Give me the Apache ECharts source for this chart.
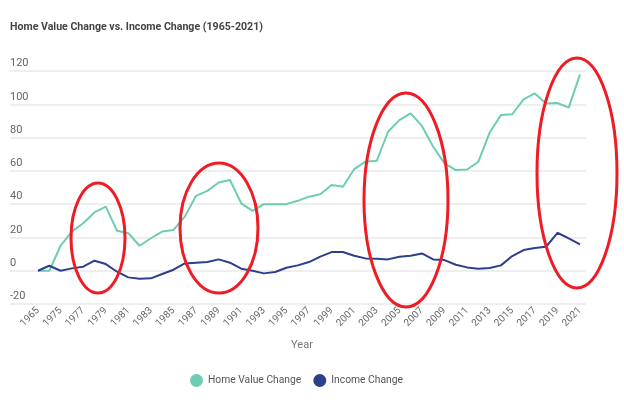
<!DOCTYPE html>
<html>
<head>
<meta charset="utf-8">
<script src="https://cdn.jsdelivr.net/npm/echarts@6/dist/echarts.min.js"></script>
<style>
  html, body { margin: 0; padding: 0; background: #fff; }
  #main { width: 624px; height: 412px; }
</style>
</head>
<body>
<div id="main"></div>
<script>
// years on the x axis (second one has no label in the picture)
var years = ['1965', '1970', '1975', '1976', '1977', '1978', '1979', '1980', '1981', '1982',
  '1983', '1984', '1985', '1986', '1987', '1988', '1989', '1990', '1991', '1992',
  '1993', '1994', '1995', '1996', '1997', '1998', '1999', '2000', '2001', '2002',
  '2003', '2004', '2005', '2006', '2007', '2008', '2009', '2010', '2011', '2012',
  '2013', '2014', '2015', '2016', '2017', '2018', '2019', '2020', '2021'];

var homeValue = [0, 0, 15, 23.5, 28.5, 35, 38.5, 24, 22.5, 15,
  19.5, 23.5, 24.5, 32.5, 45, 48, 53, 54.5, 40.5, 36,
  40, 40, 40, 42, 44.5, 46, 51.5, 50.5, 61, 65.5,
  66, 83.5, 90.5, 94.5, 87, 74.5, 64.5, 60.5, 60.8, 65.5,
  83, 93.5, 94, 103, 106.5, 100.5, 100.8, 98, 118];

var income = [0, 3, 0, 1.4, 2.4, 6, 4, -0.6, -4, -4.8,
  -4.6, -2, 0.6, 4.4, 4.8, 5.2, 6.8, 4.8, 1.2, 0,
  -1.6, -0.8, 1.8, 3.2, 5.2, 8.5, 11.2, 11.2, 9, 7.4,
  7.2, 6.8, 8.4, 9, 10.4, 6.8, 6.4, 3.6, 2, 1.2,
  1.6, 3.2, 8.8, 12.4, 13.6, 14.4, 22.8, 19.4, 15.8];

var yTicks = { min: -20, max: 120, interval: 20 };

var myChart = echarts.init(document.getElementById('main'));

var option = {
  animation: false,
  textStyle: { fontFamily: 'Roboto' },
  title: {
    text: 'Home Value Change vs. Income Change (1965-2021)',
    left: 10,
    top: 22,
    padding: 0,
    textStyle: { fontSize: 10.6, fontWeight: 'bold', color: '#444', fontFamily: 'Roboto' }
  },
  legend: {
    data: ['Home Value Change', 'Income Change'],
    left: 190,
    top: 374,
    padding: 0,
    icon: 'circle',
    itemWidth: 13,
    itemHeight: 13,
    itemGap: 12,
    textStyle: { fontSize: 10.3, color: '#555' }
  },
  grid: [
    { left: 10, right: 38, top: 71, bottom: 108 },  // gridlines + y labels
    { left: 38, right: 44, top: 71, bottom: 108 }   // the lines
  ],
  xAxis: [
    { gridIndex: 0, type: 'value', show: false, min: 0, max: 1 },
    {
      gridIndex: 1,
      type: 'category',
      data: years,
      boundaryGap: false,
      name: 'Year',
      nameLocation: 'middle',
      nameGap: 36,
      nameTextStyle: { fontSize: 11, color: '#777', padding: [0, 14, 0, 0] },
      axisLine: { show: false },
      axisTick: { show: false },
      axisLabel: { interval: 1, rotate: 45, fontSize: 10, color: '#666', margin: 5 }
    }
  ],
  yAxis: [
    {
      gridIndex: 0,
      type: 'value',
      min: yTicks.min,
      max: yTicks.max,
      interval: yTicks.interval,
      axisLine: { show: false },
      axisTick: { show: false },
      splitLine: { lineStyle: { color: '#e8e8e8', width: 1.5 } },
      axisLabel: {
        inside: true,
        margin: 0,
        verticalAlign: 'bottom',
        fontSize: 11,
        color: '#666',
        padding: [0, 0, 2, 0]
      }
    },
    { gridIndex: 1, type: 'value', show: false, min: yTicks.min, max: yTicks.max }
  ],
  series: [
    {
      name: 'Home Value Change',
      type: 'line',
      xAxisIndex: 1,
      yAxisIndex: 1,
      data: homeValue,
      symbol: 'none',
      itemStyle: { color: '#6dcdb4' },
      lineStyle: { color: '#6dcdb4', width: 2 }
    },
    {
      name: 'Income Change',
      type: 'line',
      xAxisIndex: 1,
      yAxisIndex: 1,
      data: income,
      symbol: 'none',
      itemStyle: { color: '#2d3f8c' },
      lineStyle: { color: '#2d3f8c', width: 2 }
    }
  ],
  // red hand-drawn circles over the picture
  graphic: [
    { type: 'ellipse', shape: { cx: 98, cy: 238, rx: 27, ry: 55 }, style: { fill: 'none', stroke: '#ee1c25', lineWidth: 3 }, z: 100 },
    { type: 'ellipse', shape: { cx: 219, cy: 228, rx: 39, ry: 65 }, style: { fill: 'none', stroke: '#ee1c25', lineWidth: 3 }, z: 100 },
    { type: 'ellipse', shape: { cx: 406, cy: 200, rx: 42, ry: 107 }, style: { fill: 'none', stroke: '#ee1c25', lineWidth: 3 }, z: 100 },
    { type: 'ellipse', shape: { cx: 577, cy: 173, rx: 40, ry: 115 }, style: { fill: 'none', stroke: '#ee1c25', lineWidth: 3 }, z: 100 }
  ]
};

myChart.setOption(option);
</script>
</body>
</html>
